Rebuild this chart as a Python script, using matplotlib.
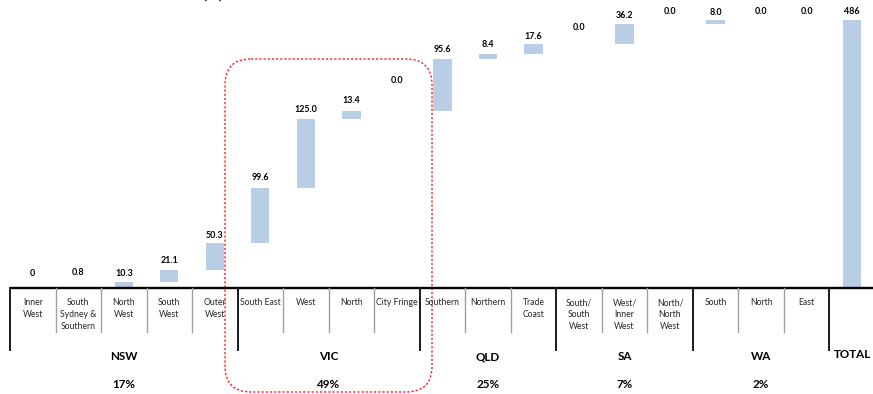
import matplotlib
matplotlib.use("Agg")
import matplotlib.pyplot as plt
from matplotlib.patches import FancyBboxPatch

plt.rcParams['font.family'] = ['Lato', 'DejaVu Sans']

# ---- data ($m) ----
states = ["NSW", "VIC", "QLD", "SA", "WA"]
state_share = ["17%", "49%", "25%", "7%", "2%"]
regions = [
    ["Inner\nWest", "South\nSydney &\nSouthern", "North\nWest", "South\nWest", "Outer\nWest"],
    ["South East", "West", "North", "City Fringe"],
    ["Southern", "Northern", "Trade\nCoast"],
    ["South/\nSouth\nWest", "West/\nInner\nWest", "North/\nNorth\nWest"],
    ["South", "North", "East"],
]
nsw_values = [0, 0.8, 10.3, 21.1, 50.3]
vic_values = [99.6, 125.0, 13.4, 0.0]
qld_values = [95.6, 8.4, 17.6]
sa_values = [0.0, 36.2, 0.0]
wa_values = [8.0, 0.0, 0.0]
total_value = 486
total_label = "TOTAL"

region_values = nsw_values + vic_values + qld_values + sa_values + wa_values
label_formats = ["{:.0f}", "{:.1f}"] + ["{:.1f}"] * (len(region_values) - 2)

# ---- layout (pixels) ----
W, H = 873, 394
X0, COL = 10.0, 45.52          # left edge of the table, column width
Y_BASE, SCALE = 288.0, 0.5514  # baseline row, px per $m
BAR_COLOR = "#B9CDE5"
label_lift = [15, 15, 8, 10, 7.5, 10, 9, 11, 31, 9, 9, 8, 17, 9, 12.5, 7, 8, 8, 9]

fig = plt.figure(figsize=(W / 100, H / 100), dpi=100)
ax = fig.add_axes([0, 0, 1, 1])
ax.set_xlim(-X0 / COL - 0.5, (W - X0) / COL - 0.5)
ax.set_ylim(-(H - Y_BASE) / SCALE, Y_BASE / SCALE)
ax.axis("off")

# waterfall bars
bottoms = []
running = 0.0
for v in region_values:
    bottoms.append(running)
    running += v
n = len(region_values)
xs = list(range(n + 1))
heights = region_values + [total_value]
bases = bottoms + [0]
ax.bar(xs, heights, bottom=bases, width=0.4, color=BAR_COLOR, zorder=2)

texts = [fmt.format(v) for fmt, v in zip(label_formats, region_values)] + [f"{total_value:.0f}"]
for x, b, h, t, lift in zip(xs, bases, heights, texts, label_lift):
    ax.annotate(t, (x, b + h), xytext=(0, lift * 0.72), textcoords="offset points",
                ha="center", va="center", fontsize=6.4, fontweight="bold", color="#000000")

# overlay in pixel coordinates for the table and highlight box
ov = fig.add_axes([0, 0, 1, 1], zorder=3)
ov.set_xlim(0, W)
ov.set_ylim(H, 0)
ov.axis("off")
ov.patch.set_alpha(0)

ov.plot([X0, W], [Y_BASE, Y_BASE], color="#000000", lw=1.7, solid_capstyle="butt")

col = 0
group_edges = [0]
for g, names in enumerate(regions):
    for k, name in enumerate(names):
        cx = X0 + COL * (col + 0.5)
        for j, line in enumerate(name.split("\n")):
            ov.text(cx, 302.5 + 12 * j, line, ha="center", va="center",
                    fontsize=6.2, color="#262626")
        if k > 0:
            xe = X0 + COL * col
            ov.plot([xe, xe], [Y_BASE, 332], color="#A0A0A0", lw=1.0)
        col += 1
    group_edges.append(col)

for e in group_edges:
    xe = X0 + COL * e
    ov.plot([xe, xe], [Y_BASE, 350], color="#1A1A1A", lw=1.4)

for g, (name, share) in enumerate(zip(states, state_share)):
    cx = X0 + COL * (group_edges[g] + group_edges[g + 1]) / 2
    ov.text(cx, 357, name, ha="center", va="center", fontsize=8.4, fontweight="bold", color="#000000")
    ov.text(cx, 384, share, ha="center", va="center", fontsize=8.4, fontweight="bold", color="#000000")

ov.text(X0 + COL * (n + 0.5), 355, total_label, ha="center", va="center",
        fontsize=8.4, fontweight="bold", color="#000000")

# title, running off the top edge
ov.text(213, -1.5, "(m)", ha="center", va="baseline", fontsize=11, fontweight="bold", color="#111111")

# dotted highlight around VIC
box = FancyBboxPatch((225, 59), 207, 333, boxstyle="round,pad=0,rounding_size=26",
                     fill=False, edgecolor="#FF2020", lw=1.0, linestyle=(0, (1.6, 1.4)))
ov.add_patch(box)

fig.savefig("out.png", dpi=100)
